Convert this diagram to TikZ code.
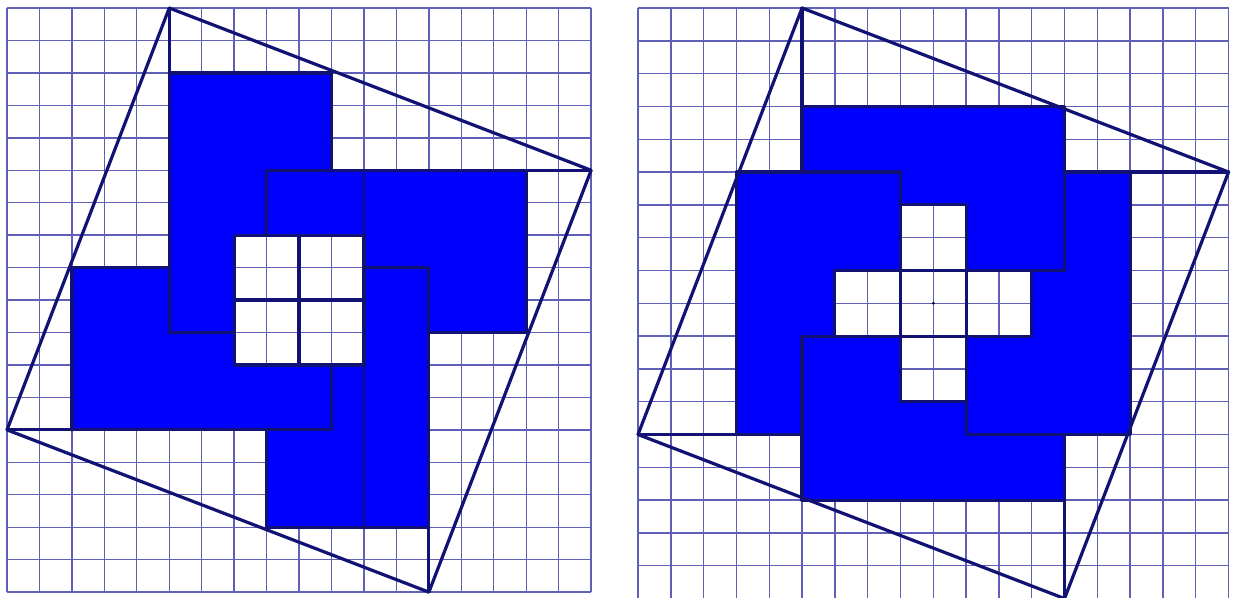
\documentclass[tikz,border=0pt]{standalone}
\usepackage{tikz}
\definecolor{gridblue}{RGB}{96,96,184}
\definecolor{rimnavy}{RGB}{18,18,116}
\definecolor{piecefill}{RGB}{0,0,255}
\newcommand\sqgrid{\foreach \i in {0,...,18} \draw[gridln] (\i,0) -- (\i,18) (0,\i) -- (18,\i);}
\newcommand\tiltsq{\draw[rim] (0,13) -- (5,0) -- (18,5) -- (13,18) -- cycle;}
\begin{document}
\begin{tikzpicture}[y=-1cm,
  gridln/.style={gridblue, line width=1.2pt},
  piece/.style={fill=piecefill},
  rim/.style={rimnavy, line width=2.8pt, line cap=round, line join=round},
  seam/.style={rimnavy, line width=1pt}]
\useasboundingbox (-0.216,-0.247) rectangle (37.78,18.18);
% left: four 5x8 pieces round a 4x4 hole
\begin{scope}
\sqgrid
\fill[piece] (5,2) rectangle (10,10) (8,5) rectangle (16,10)
  (8,8) rectangle (13,16) (2,8) rectangle (10,13);
\fill[white] (7,7) rectangle (11,11);
\begin{scope}
\clip (7,7) rectangle (11,11);
\sqgrid
\end{scope}
\draw[seam] (11,5) -- (11,16);
\draw[rim] (5,0) -- (5,10) -- (7,10) (5,2) -- (10,2) -- (10,5)
  (18,5) -- (8,5) -- (8,7) (16,5) -- (16,10) -- (13,10)
  (13,18) -- (13,8) -- (11,8) (13,16) -- (8,16) -- (8,13)
  (0,13) -- (10,13) -- (10,11) (2,13) -- (2,8) -- (5,8);
\foreach \a in {7,9} \foreach \b in {7,9} \draw[rim] (\a,\b) rectangle +(2,2);
\tiltsq
\end{scope}
% right: four 8x5 pieces round a cross
\begin{scope}[xshift=19.445cm, scale=1.011]
\sqgrid
\fill[piece] (5,3) rectangle (13,8) (10,5) rectangle (15,13)
  (5,10) rectangle (13,15) (3,5) rectangle (8,13);
\fill[white] (8,6) rectangle (10,12) (6,8) rectangle (12,10);
\begin{scope}
\clip (8,6) rectangle (10,12) (6,8) rectangle (12,10);
\sqgrid
\end{scope}
\draw[rim] (5,0) -- (5,5) (5,3) -- (13,3) -- (13,8) -- (10,8)
  (18,5) -- (13,5) (15,5) -- (15,13) -- (10,13) -- (10,10)
  (13,18) -- (13,13) (13,15) -- (5,15) -- (5,10) -- (8,10)
  (0,13) -- (5,13) (3,13) -- (3,5) -- (8,5) -- (8,8);
\foreach \a/\b in {8/6,6/8,8/8,10/8,8/10} \draw[rim] (\a,\b) rectangle +(2,2);
\fill[black] (9,9) circle (1.3pt);
\tiltsq
\end{scope}
\end{tikzpicture}
\end{document}
